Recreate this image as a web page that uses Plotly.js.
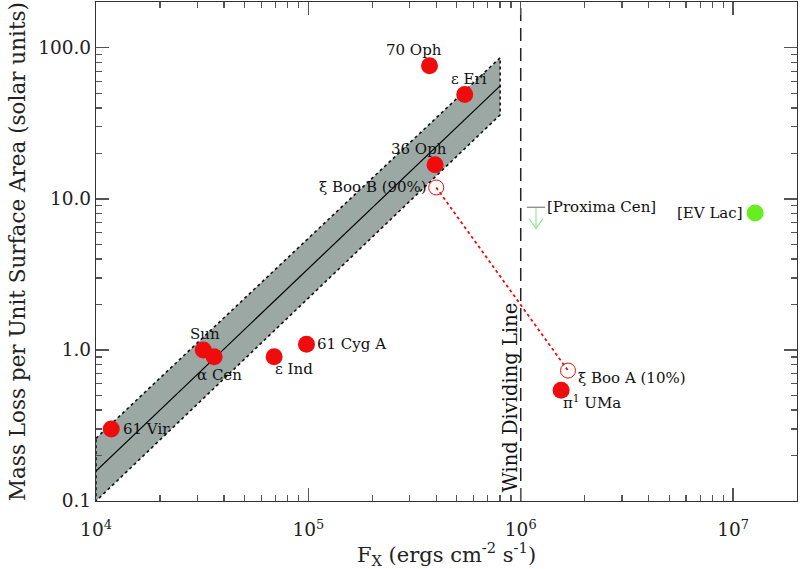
<!DOCTYPE html>
<html><head><meta charset="utf-8">
<script src="https://cdn.plot.ly/plotly-3.0.1.min.js"></script>
<style>html,body{margin:0;padding:0;background:#fff}#chart{width:800px;height:569px}</style>
</head><body><div id="chart"></div>
<script>
// ---- data ----
const starNames = ['61 Vir','Sun','α Cen','ε Ind','61 Cyg A','70 Oph','ε Eri','36 Oph','π<sup>1</sup> UMa'];
const starFx    = [1.18e4, 3.2e4, 3.6e4, 6.9e4, 9.8e4, 3.72e5, 5.45e5, 3.95e5, 1.55e6];
const starMdot  = [0.30, 1.0, 0.90, 0.90, 1.09, 76, 49, 16.8, 0.54];
const xiBooNames = ['ξ Boo B (90%)','ξ Boo A (10%)'];
const xiBooFx    = [4.0e5, 1.67e6];
const xiBooMdot  = [11.9, 0.73];
const evLacName = ['[EV Lac]'];
const evLacFx   = [1.27e7];
const evLacMdot = [8.07];
const proxName  = ['[Proxima Cen]'];
const proxFx    = [1.18e6];
const proxLimit = [8.8];
const fitFx     = [1e4, 8e5];
const fitMdot   = [0.158, 56];
const bandUpper = [0.26, 86];
const bandLower = [0.1, 36];
const windLineFx = [1e6, 1e6];
const xTickVals = [1e4, 1e5, 1e6, 1e7];
const xTickText = ['10<sup>4</sup>','10<sup>5</sup>','10<sup>6</sup>','10<sup>7</sup>'];
const yTickVals = [0.1, 1, 10, 100];
const yTickText = ['0.1','1.0','10.0','100.0'];

// ---- styles ----
const FONT = 'DejaVu Serif';
const RED = 'rgb(240,12,12)';
const GREEN = '#66ee22';
const LGREEN = '#99e699';
// label offsets in pixels [xanchor, xshift, yshift]
const starLab = [
  ['left', 10, 0], ['center', 2, 16], ['left', -19, -18], ['left', -1, -12],
  ['left', 9, 0], ['center', -16, 16], ['left', -16, 16], ['center', -16, 16], ['left', 0, -12]
];
const xiLab = [['right', -7, 0], ['left', 8, -7]];

const minorVals = (a, b) => { const v = []; for (let e = a; e < b; e++) for (let m = 2; m <= 9; m++) v.push(m * Math.pow(10, e)); return v; };

const lg = Math.log10;
const traces = [];
// band
traces.push({x: [fitFx[0], fitFx[1], fitFx[1], fitFx[0], fitFx[0]],
  y: [bandUpper[0], bandUpper[1], bandLower[1], bandLower[0], bandUpper[0]],
  mode: 'lines', fill: 'toself', fillcolor: '#9ca8a4',
  line: {color: '#111', width: 1.6, dash: 'dot'}, hoverinfo: 'skip'});
// fit line
traces.push({x: fitFx, y: fitMdot, mode: 'lines', line: {color: '#000', width: 1.2}});
// wind dividing line
traces.push({x: windLineFx, y: [0.1, 210], mode: 'lines', line: {color: '#222', width: 1.5, dash: '13px,7px'}});
// xi Boo
traces.push({x: xiBooFx, y: xiBooMdot, mode: 'lines+markers',
  line: {color: RED, width: 1.8, dash: 'dot'},
  marker: {symbol: 'circle-open', size: 15, color: RED, line: {width: 1, color: RED}}});
// stars
traces.push({x: starFx, y: starMdot, mode: 'markers', marker: {size: 17, color: RED}});
// EV Lac
traces.push({x: evLacFx, y: evLacMdot, mode: 'markers', marker: {size: 17, color: GREEN}});
// Proxima Cen upper limit
const tip = proxLimit[0] * Math.pow(10, -0.14);
traces.push({x: [proxFx[0], proxFx[0]], y: [proxLimit[0], tip], mode: 'lines', line: {color: LGREEN, width: 1.2}});
traces.push({x: proxFx, y: proxLimit, mode: 'markers', marker: {symbol: 'line-ew-open', size: 13, line: {color: LGREEN, width: 1.2}}});
traces.push({x: [proxFx[0] * Math.pow(10, -0.033), proxFx[0], proxFx[0] * Math.pow(10, 0.033)],
  y: [tip * Math.pow(10, 0.065), tip, tip * Math.pow(10, 0.065)], mode: 'lines', line: {color: LGREEN, width: 1.2}});

const annFont = {family: FONT, size: 15, color: '#111'};
const anns = [];
starNames.forEach((n, i) => anns.push({x: lg(starFx[i]), y: lg(starMdot[i]), text: n, showarrow: false,
  xanchor: starLab[i][0], yanchor: 'middle', xshift: starLab[i][1], yshift: starLab[i][2], font: annFont}));
xiBooNames.forEach((n, i) => anns.push({x: lg(xiBooFx[i]), y: lg(xiBooMdot[i]), text: n, showarrow: false,
  xanchor: xiLab[i][0], yanchor: 'middle', xshift: xiLab[i][1], yshift: xiLab[i][2], font: annFont}));
anns.push({x: lg(evLacFx[0]), y: lg(evLacMdot[0]), text: evLacName[0], showarrow: false, xanchor: 'right', xshift: -10, font: annFont});
anns.push({x: lg(proxFx[0]), y: lg(proxLimit[0]), text: proxName[0], showarrow: false, xanchor: 'left', xshift: 9, font: annFont});
anns.push({x: lg(windLineFx[0]), y: lg(0.484), text: 'Wind Dividing Line', textangle: -90, showarrow: false,
  xanchor: 'center', xshift: -10, font: {family: FONT, size: 19.5, color: '#111'}});

const axCommon = {type: 'log', showgrid: false, zeroline: false, showline: true, linecolor: '#333', linewidth: 1.2,
  mirror: 'ticks', ticks: 'inside', ticklen: 13, tickwidth: 1.3, tickcolor: '#555', tickmode: 'array',
  tickfont: {family: FONT, size: 18.5, color: '#222'}};

const layout = {
  width: 800, height: 569, margin: {l: 96, r: 3, t: 2, b: 68},
  paper_bgcolor: '#fff', plot_bgcolor: '#fff', showlegend: false,
  font: {family: FONT, color: '#222'},
  xaxis: Object.assign({}, axCommon, {range: [4, lg(2e7)], tickvals: xTickVals, ticktext: xTickText,
    ticklabelstandoff: 12,
    minor: {ticks: 'inside', ticklen: 6, tickcolor: '#555', tickvals: minorVals(4, 8)},
    title: {text: 'F<sub>X</sub> (ergs cm<sup>-2</sup> s<sup>-1</sup>)', font: {family: FONT, size: 21, color: '#222'}, standoff: 8}}),
  yaxis: Object.assign({}, axCommon, {range: [-1, lg(201)], tickvals: yTickVals, ticktext: yTickText,
    minor: {ticks: 'inside', ticklen: 6, tickcolor: '#555', tickvals: minorVals(-1, 3)},
    title: {text: 'Mass Loss per Unit Surface Area (solar units)', font: {family: FONT, size: 21.5, color: '#222'}, standoff: 6}}),
  annotations: anns
};
Plotly.newPlot('chart', traces, layout, {staticPlot: true, displayModeBar: false});
</script></body></html>
